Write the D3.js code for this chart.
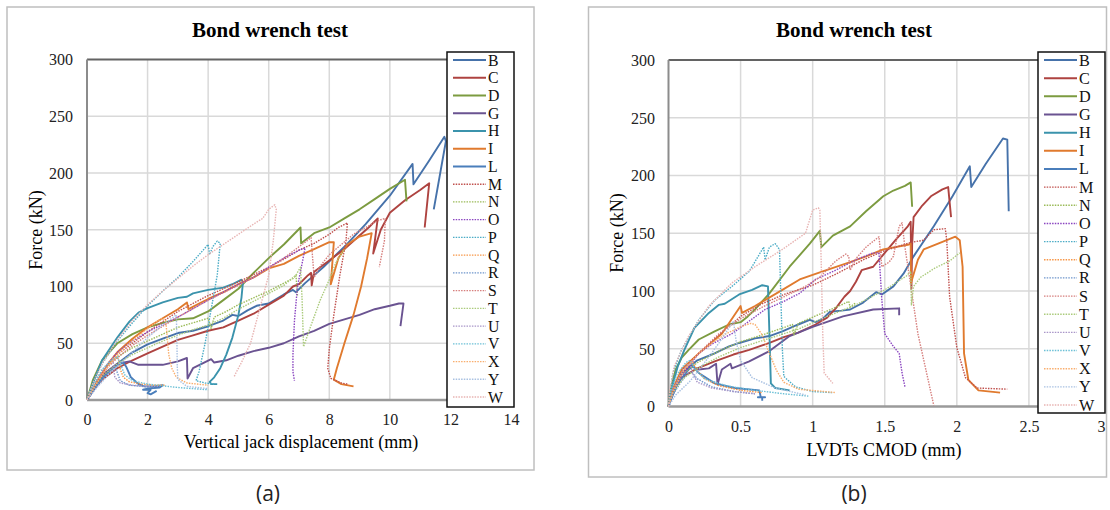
<!DOCTYPE html>
<html><head><meta charset="utf-8">
<script src="https://cdn.jsdelivr.net/npm/d3@7"></script>
<style>
html,body{margin:0;padding:0;background:#fff;}
svg{display:block;}
</style></head>
<body>
<svg id="chart" width="1110" height="510"></svg>
<script>
// ---------------- DATA ----------------
const names = ["B","C","D","G","H","I","L","M","N","O","P","Q","R","S","T","U","V","X","Y","W"];
const dotted = ["M","N","O","P","Q","R","S","T","U","V","X","Y","W"];
const colors = ["#4672AA","#AE4340","#7C9B40","#6A5391","#3B93AC","#E07A2E","#4A7EBB",
  "#C0504D","#9BBB59","#8A45C0","#4BACC6","#F79646","#6F96CC","#D67F7D","#ABCB7C","#A895C8","#6CC0D6","#F9AE6E","#A9C1E2","#E8B4B3"];
const xTicksA = [0,2,4,6,8,10,12,14];
const xTicksB = [0,0.5,1,1.5,2,2.5,3];
const yTicks = [0,50,100,150,200,250,300];

// Panel (a): vertical jack displacement (mm), force (kN)
const aB = [[0,0],[0.2,10],[0.5,20],[1,32],[1.5,42],[2,49],[2.5,54],[3,59],[3.5,61],[4,65],[4.5,70],[4.8,75],[5,74],[5.3,79],[5.6,83],[6,85],[6.5,93],[6.8,97],[6.9,95],[7.2,103],[7.8,117],[8.5,135],[9.2,155],[10,180],[10.75,208],[10.78,190],[11.3,211],[11.8,232],[11.85,228],[11.45,168]];
const aC = [[0,0],[0.2,9],[0.5,18],[1,28],[1.5,35],[2,41],[2.5,47],[3,53],[3.5,57],[4,61],[4.5,64],[5,70],[5.5,76],[6,84],[6.5,92],[6.8,100],[7,102],[7.3,110],[7.4,112],[7.42,101],[7.5,113],[8,123],[8.5,133],[9,145],[9.3,152],[9.6,160],[9.45,129],[9.7,150],[10,165],[10.5,176],[11,185],[11.3,191],[11.15,152]];
const aD = [[0,0],[0.2,18],[0.5,35],[1,50],[1.5,58],[2,64],[2.5,68],[3,71],[3.5,72],[4,78],[4.5,88],[5,98],[5.5,112],[6,125],[6.5,137],[7.05,152],[7.07,138],[7.5,147],[8,152],[8.5,160],[9,168],[9.5,177],[10,186],[10.5,194],[10.55,175]];
const aG = [[0,0],[0.3,12],[0.6,24],[1,32],[1.4,34],[1.7,31],[2,31],[2.5,31],[3,34],[3.3,37],[3.32,19],[3.5,28],[3.8,32],[4.1,36],[4.2,33],[4.6,35],[5,39],[5.5,43],[6,46],[6.5,50],[7,56],[7.5,61],[8,67],[8.5,71],[9,75],[9.5,80],[10,83],[10.3,85],[10.45,85],[10.35,65]];
const aH = [[0,0],[0.2,15],[0.5,35],[1,55],[1.4,69],[1.7,77],[2,81],[2.5,86],[3,90],[3.3,91],[3.5,94],[4,97],[4.5,99],[4.8,102],[5.1,106],[5.15,104],[5.1,90],[5,75],[4.8,55],[4.6,40],[4.4,28],[4.2,20],[4.05,16],[4.1,14],[4.3,14]];
const aI = [[0,0],[0.3,15],[0.7,32],[1,42],[1.5,54],[2,64],[2.5,72],[3,80],[3.3,86],[3.35,80],[3.7,85],[4,89],[4.5,95],[5,102],[5.5,108],[6,116],[6.5,120],[7,127],[7.5,133],[8,139],[8.15,139],[8.05,102],[8.3,125],[8.6,137],[9,144],[9.4,147],[9.25,125],[9.05,100],[8.8,75],[8.5,50],[8.25,28],[8.15,18],[8.4,14],[8.8,12]];
const aL = [[0,0],[0.2,9],[0.5,19],[0.8,27],[1.1,32],[1.2,33],[1.3,29],[1.45,20],[1.7,14],[1.9,12],[2.2,12],[2.5,13],[2.4,11],[2,10],[1.85,9],[2.1,9],[2,6],[2.1,5],[2.3,8]];
const aM = [[0,0],[0.3,14],[0.7,30],[1,40],[2,60],[3,78],[4,92],[5,104],[6,117],[6.5,124],[7,132],[7.5,138],[8,146],[8.3,152],[8.6,156],[8.55,140],[8.35,110],[8.15,75],[8,45],[7.95,28],[8.05,19],[8.4,15],[8.6,14]];
const aN = [[0,0],[0.2,12],[0.5,26],[1,38],[1.5,46],[2,52],[2.5,58],[3,64],[3.5,68],[4,72],[4.1,63],[4.2,73],[4.6,78],[5,84],[5.5,90],[6,96],[6.5,103],[6.8,107],[6.9,110],[6.95,92]];
const aO = [[0,0],[0.3,15],[0.7,32],[1,42],[1.5,52],[2,60],[3,73],[4,88],[5,102],[5.5,108],[6,117],[6.5,125],[7,132],[7.2,134],[7.1,120],[6.95,100],[6.85,70],[6.8,40],[6.8,25],[6.85,17]];
const aP = [[0,0],[0.2,15],[0.5,32],[1,52],[1.5,68],[2,83],[2.5,96],[3,108],[3.5,122],[4,137],[4.05,128],[4.15,135],[4.3,140],[4.4,138],[4.3,110],[4.1,80],[3.9,50],[3.7,25],[3.6,17],[3.9,15],[4.2,14]];
const aQ = [[0,0],[0.2,11],[0.5,24],[0.8,33],[1,38],[1.05,35],[1.1,27],[1.2,20],[1.4,16],[1.8,14],[2.2,13],[2.6,13]];
const aR = [[0,0],[0.2,8],[0.5,18],[0.8,26],[0.95,29],[1,24],[1.1,17],[1.4,13],[1.8,12],[2.2,11]];
const aS = [[0,0],[0.2,11],[0.5,24],[1,37],[1.5,48],[2,57],[3,73],[4,88],[5,101],[5.5,108],[6,116],[6.5,125],[7,135],[7.3,141],[7.4,143],[7.45,125],[7.5,108],[7.7,118],[8,128],[8.4,137],[8.8,146],[9.2,152],[9.6,158],[9.85,160],[9.82,140],[9.65,117]];
const aT = [[0,0],[0.2,10],[0.5,21],[1,32],[1.5,40],[2,46],[2.5,52],[3,57],[3.5,62],[4,66],[4.5,72],[5,80],[5.5,87],[6,94],[6.5,101],[6.9,110],[7.05,117],[7.1,90],[7.15,47],[7.4,66],[7.7,88],[8,106],[8.2,120],[8.5,133]];
const aU = [[0,0],[0.2,12],[0.5,26],[0.75,34],[0.85,37],[0.88,28],[0.92,20],[1.1,15],[1.5,13],[2,12],[2.4,12]];
const aV = [[0,0],[0.2,13],[0.5,27],[0.8,35],[1,38],[1.1,32],[1.25,22],[1.5,17],[2,14],[3,11],[4,9]];
const aX = [[0,0],[0.3,14],[0.7,30],[1,40],[1.5,52],[2,63],[2.3,69],[2.5,72],[2.6,70],[2.65,55],[2.7,40],[2.8,28],[2.95,20],[3.3,15],[4,13]];
const aY = [[0,0],[0.3,10],[0.7,22],[1,30],[1.5,42],[2,55],[2.5,66],[2.9,74],[2.95,75],[2.97,50],[2.98,30],[3,18],[3.3,12],[4,10]];
const aW = [[0,0],[0.2,15],[0.5,32],[1,53],[1.5,70],[2,84],[2.5,96],[3,107],[3.5,118],[4,128],[4.5,137],[5,146],[5.5,155],[5.8,160],[6,168],[6.2,172],[6.25,168],[6.15,140],[6,110],[5.7,80],[5.4,50],[5.1,33],[4.9,23],[4.85,20]];

// Panel (b): LVDTs CMOD (mm), force (kN)
const bB = [[0,0],[0.03,12],[0.09,29],[0.2,40],[0.32,46],[0.42,52],[0.49,55],[0.6,59],[0.7,61],[0.79,65],[0.9,71],[0.98,75],[1.02,73],[1.07,76],[1.12,82],[1.2,83],[1.26,84],[1.35,90],[1.44,99],[1.48,97],[1.56,104],[1.63,115],[1.7,130],[1.84,156],[1.97,182],[2.09,208],[2.1,190],[2.2,210],[2.32,232],[2.35,231],[2.36,169]];
const bC = [[0,0],[0.03,12],[0.09,25],[0.2,33],[0.32,39],[0.45,45],[0.56,49],[0.7,55],[0.8,60],[0.9,64],[1.02,71],[1.1,77],[1.16,85],[1.22,95],[1.26,100],[1.3,108],[1.34,118],[1.42,121],[1.5,133],[1.58,145],[1.66,156],[1.68,160],[1.685,102],[1.69,140],[1.7,164],[1.76,174],[1.82,182],[1.9,188],[1.94,190],[1.96,164]];
const bD = [[0,0],[0.02,18],[0.05,32],[0.09,42],[0.14,49],[0.21,58],[0.32,65],[0.42,71],[0.5,73],[0.55,78],[0.6,84],[0.7,98],[0.84,121],[0.98,141],[1.05,152],[1.06,138],[1.14,148],[1.26,156],[1.37,169],[1.49,182],[1.56,187],[1.64,191],[1.68,194],[1.69,173]];
const bG = [[0,0],[0.03,12],[0.09,29],[0.16,35],[0.21,32],[0.28,33],[0.33,37],[0.34,19],[0.37,32],[0.43,37],[0.44,33],[0.56,39],[0.7,48],[0.84,61],[1,69],[1.21,78],[1.42,84],[1.6,85],[1.6,79]];
const bH = [[0,0],[0.02,15],[0.065,35],[0.11,49],[0.18,68],[0.28,81],[0.35,88],[0.39,89],[0.49,97],[0.58,101],[0.65,105],[0.69,104],[0.7,63],[0.71,20],[0.74,16],[0.84,14]];
const bI = [[0,0],[0.03,15],[0.09,32],[0.21,46],[0.37,63],[0.5,87],[0.51,81],[0.6,87],[0.79,101],[0.91,110],[1.07,117],[1.26,125],[1.37,130],[1.49,136],[1.66,140],[1.68,141],[1.682,107],[1.73,127],[1.77,136],[1.87,141],[1.99,147],[2.02,144],[2.04,121],[2.05,46],[2.08,23],[2.15,14],[2.3,12]];
const bL = [[0,0],[0.03,10],[0.065,20],[0.14,32],[0.17,35],[0.21,29],[0.32,20],[0.46,16],[0.63,14],[0.64,8],[0.62,8],[0.67,8],[0.65,8],[0.65,5]];
const bM = [[0,0],[0.03,15],[0.1,32],[0.2,45],[0.35,62],[0.5,78],[0.65,89],[0.8,97],[1,105],[1.15,114],[1.26,121],[1.35,127],[1.5,135],[1.68,142],[1.77,144],[1.84,153],[1.92,154],[1.93,144],[1.95,95],[2,51],[2.06,25],[2.14,16],[2.35,15]];
const bN = [[0,0],[0.03,14],[0.1,28],[0.2,38],[0.35,48],[0.5,56],[0.7,64],[0.86,71],[0.87,62],[0.9,72],[1.05,80],[1.2,88],[1.25,91],[1.26,86],[1.3,90]];
const bO = [[0,0],[0.03,12],[0.09,26],[0.21,46],[0.3,54],[0.44,63],[0.55,73],[0.67,84],[0.8,91],[0.91,98],[1.02,110],[1.16,118],[1.3,127],[1.42,133],[1.46,133],[1.48,92],[1.5,63],[1.56,52],[1.6,46],[1.62,29],[1.64,17]];
const bP = [[0,0],[0.03,29],[0.09,49],[0.21,75],[0.32,92],[0.44,104],[0.56,117],[0.66,138],[0.67,127],[0.7,138],[0.74,141],[0.77,136],[0.78,92],[0.79,49],[0.8,26],[0.88,17],[1,13],[1.14,12]];
const bQ = [[0,0],[0.03,14],[0.08,27],[0.14,36],[0.17,38],[0.2,31],[0.25,24],[0.35,18],[0.5,14],[0.65,12]];
const bR = [[0,0],[0.03,10],[0.08,20],[0.13,28],[0.16,30],[0.2,24],[0.3,17],[0.45,13],[0.6,11]];
const bS = [[0,0],[0.03,14],[0.1,30],[0.2,45],[0.35,63],[0.5,76],[0.65,86],[0.8,95],[0.95,104],[1.05,112],[1.16,126],[1.23,132],[1.25,130],[1.26,118],[1.3,128],[1.37,138],[1.45,146],[1.46,147],[1.48,121],[1.53,125],[1.56,130],[1.6,156],[1.62,159],[1.64,138],[1.73,63],[1.84,1]];
const bT = [[0,0],[0.03,12],[0.1,24],[0.2,33],[0.35,43],[0.5,51],[0.7,59],[0.9,67],[1.1,78],[1.3,88],[1.5,101],[1.65,113],[1.68,117],[1.685,88],[1.7,104],[1.75,112],[1.85,120],[1.95,126],[2.02,133]];
const bU = [[0,0],[0.03,14],[0.08,27],[0.13,36],[0.15,37],[0.17,28],[0.2,21],[0.3,16],[0.45,13],[0.6,11]];
const bV = [[0,0],[0.02,15],[0.06,28],[0.12,38],[0.15,40],[0.18,33],[0.25,24],[0.4,18],[0.6,14],[0.8,11],[0.97,9]];
const bX = [[0,0],[0.03,12],[0.1,30],[0.2,45],[0.3,55],[0.4,63],[0.5,69],[0.57,72],[0.6,71],[0.65,62],[0.7,46],[0.75,31],[0.8,21],[0.9,15],[1.16,12]];
const bY = [[0,0],[0.05,10],[0.15,22],[0.25,38],[0.35,55],[0.43,70],[0.45,74],[0.47,56],[0.5,40],[0.58,25],[0.74,16],[0.95,10]];
const bW = [[0,0],[0.01,15],[0.04,35],[0.14,61],[0.28,87],[0.44,107],[0.6,121],[0.79,136],[0.95,150],[0.98,162],[1,170],[1.04,172],[1.05,170],[1.06,121],[1.07,63],[1.08,29],[1.14,20]];

const panelAData = [aB,aC,aD,aG,aH,aI,aL,aM,aN,aO,aP,aQ,aR,aS,aT,aU,aV,aX,aY,aW];
const panelBData = [bB,bC,bD,bG,bH,bI,bL,bM,bN,bO,bP,bQ,bR,bS,bT,bU,bV,bX,bY,bW];

// ---------------- DRAW ----------------
const svg = d3.select("#chart");
const SERIF = "'Liberation Serif','Times New Roman',serif";

function drawPanel(cfg){
  const g = svg.append("g");
  g.append("rect").attr("x",cfg.box[0]).attr("y",cfg.box[1]).attr("width",cfg.box[2]).attr("height",cfg.box[3])
    .attr("fill","#fff").attr("stroke","#bfbfbf").attr("stroke-width",1.5);
  const x = d3.scaleLinear().domain([0,cfg.xmax]).range([cfg.x0,cfg.x1]);
  const y = d3.scaleLinear().domain([0,300]).range([cfg.y0,cfg.y1]);
  g.selectAll(".vg").data(cfg.xticks.filter(d=>d>0)).enter().append("line")
    .attr("x1",d=>x(d)).attr("x2",d=>x(d)).attr("y1",y(0)).attr("y2",y(300))
    .attr("stroke","#d9d9d9").attr("stroke-width",1.5);
  g.selectAll(".hg").data(yTicks.filter(d=>d>0 && d<300)).enter().append("line")
    .attr("x1",x(0)).attr("x2",x(cfg.xmax)).attr("y1",d=>y(d)).attr("y2",d=>y(d))
    .attr("stroke","#d9d9d9").attr("stroke-width",1.5);
  g.append("line").attr("x1",x(0)).attr("x2",x(cfg.xmax)).attr("y1",y(300)).attr("y2",y(300))
    .attr("stroke","#636363").attr("stroke-width",2);
  g.append("line").attr("x1",x(0)).attr("x2",x(0)).attr("y1",y(0)).attr("y2",y(300))
    .attr("stroke","#8c8c8c").attr("stroke-width",2);
  g.append("line").attr("x1",x(0)).attr("x2",x(cfg.xmax)).attr("y1",y(0)).attr("y2",y(0))
    .attr("stroke","#9a9a9a").attr("stroke-width",2.5);
  const xa = g.append("g").attr("transform",`translate(0,${y(0)})`)
    .call(d3.axisBottom(x).tickValues(cfg.xticks).tickSize(0).tickFormat(d=>String(d)));
  xa.select(".domain").remove();
  xa.attr("font-family",null).attr("font-size",null);
  xa.selectAll("text").attr("y",cfg.xlabOff).attr("dy",0)
    .style("font-family",SERIF).style("font-size","16px").attr("fill","#222");
  const ya = g.append("g").attr("transform",`translate(${x(0)},0)`)
    .call(d3.axisLeft(y).tickValues(yTicks).tickSize(0));
  ya.select(".domain").remove();
  ya.attr("font-family",null).attr("font-size",null);
  ya.selectAll("text").attr("x",-cfg.ylabOff).attr("dy","0.34em")
    .style("font-family",SERIF).style("font-size","16px").attr("fill","#222");
  const line = d3.line().x(d=>x(d[0])).y(d=>y(d[1]));
  cfg.data.forEach((arr,i)=>{
    const isDot = dotted.includes(names[i]);
    g.append("path").datum(arr).attr("d",line).attr("fill","none")
      .attr("stroke",colors[i]).attr("stroke-width",isDot?1.4:1.9)
      .attr("stroke-dasharray",isDot?"1.5,1.2":null).attr("stroke-linejoin","round");
  });
  g.append("text").attr("x",cfg.titleX).attr("y",37).attr("text-anchor","middle")
    .style("font-family",SERIF).attr("font-weight","bold").attr("font-size",21).text("Bond wrench test");
  g.append("text").attr("x",cfg.xTitleX).attr("y",cfg.xTitleY).attr("text-anchor","middle")
    .style("font-family",SERIF).attr("font-size",18).text(cfg.xTitle);
  g.append("text").attr("transform",`translate(${cfg.yTitleX},${cfg.yTitleY}) rotate(-90)`).attr("text-anchor","middle")
    .style("font-family",SERIF).attr("font-size",18).text("Force (kN)");
  const L = cfg.legend;
  g.append("rect").attr("x",L.x).attr("y",L.y).attr("width",L.w).attr("height",L.h)
    .attr("fill","#fff").attr("stroke","#111").attr("stroke-width",1.5);
  names.forEach((n,i)=>{
    const ly = L.first + i*L.step;
    const isDot = dotted.includes(n);
    g.append("line").attr("x1",L.x+6).attr("x2",L.x+39).attr("y1",ly).attr("y2",ly)
      .attr("stroke",colors[i]).attr("stroke-width",isDot?1.4:2)
      .attr("stroke-dasharray",isDot?"1.5,1.2":null);
    g.append("text").attr("x",L.x+41).attr("y",ly+5.5).style("font-family",SERIF).attr("font-size",L.fs)
      .attr("fill","#111").text(n);
  });
  svg.append("text").attr("x",cfg.capX).attr("y",501).attr("text-anchor","middle")
    .style("font-family","'Open Sans','Noto Sans',sans-serif").attr("font-size",21).attr("fill","#222").text(cfg.cap);
}

drawPanel({box:[7,7,527,463], x0:87, x1:511, y0:400, y1:59.5, xmax:14, xticks:xTicksA,
  xlabOff:24.5, ylabOff:14, data:panelAData, titleX:270, xTitle:"Vertical jack displacement (mm)",
  xTitleX:301, xTitleY:448, yTitleX:42, yTitleY:230,
  legend:{x:447,y:52,w:67,h:355,first:60,step:17.74,fs:15.8}, cap:"(a)", capX:268});
drawPanel({box:[588.5,7,518,470], x0:668.5, x1:1101, y0:406.5, y1:60, xmax:3, xticks:xTicksB,
  xlabOff:25, ylabOff:13.5, data:panelBData, titleX:854, xTitle:"LVDTs CMOD (mm)",
  xTitleX:884, xTitleY:456, yTitleX:623, yTitleY:233,
  legend:{x:1038,y:52,w:67,h:361,first:60,step:18.16,fs:16.2}, cap:"(b)", capX:854});
</script>
</body></html>
